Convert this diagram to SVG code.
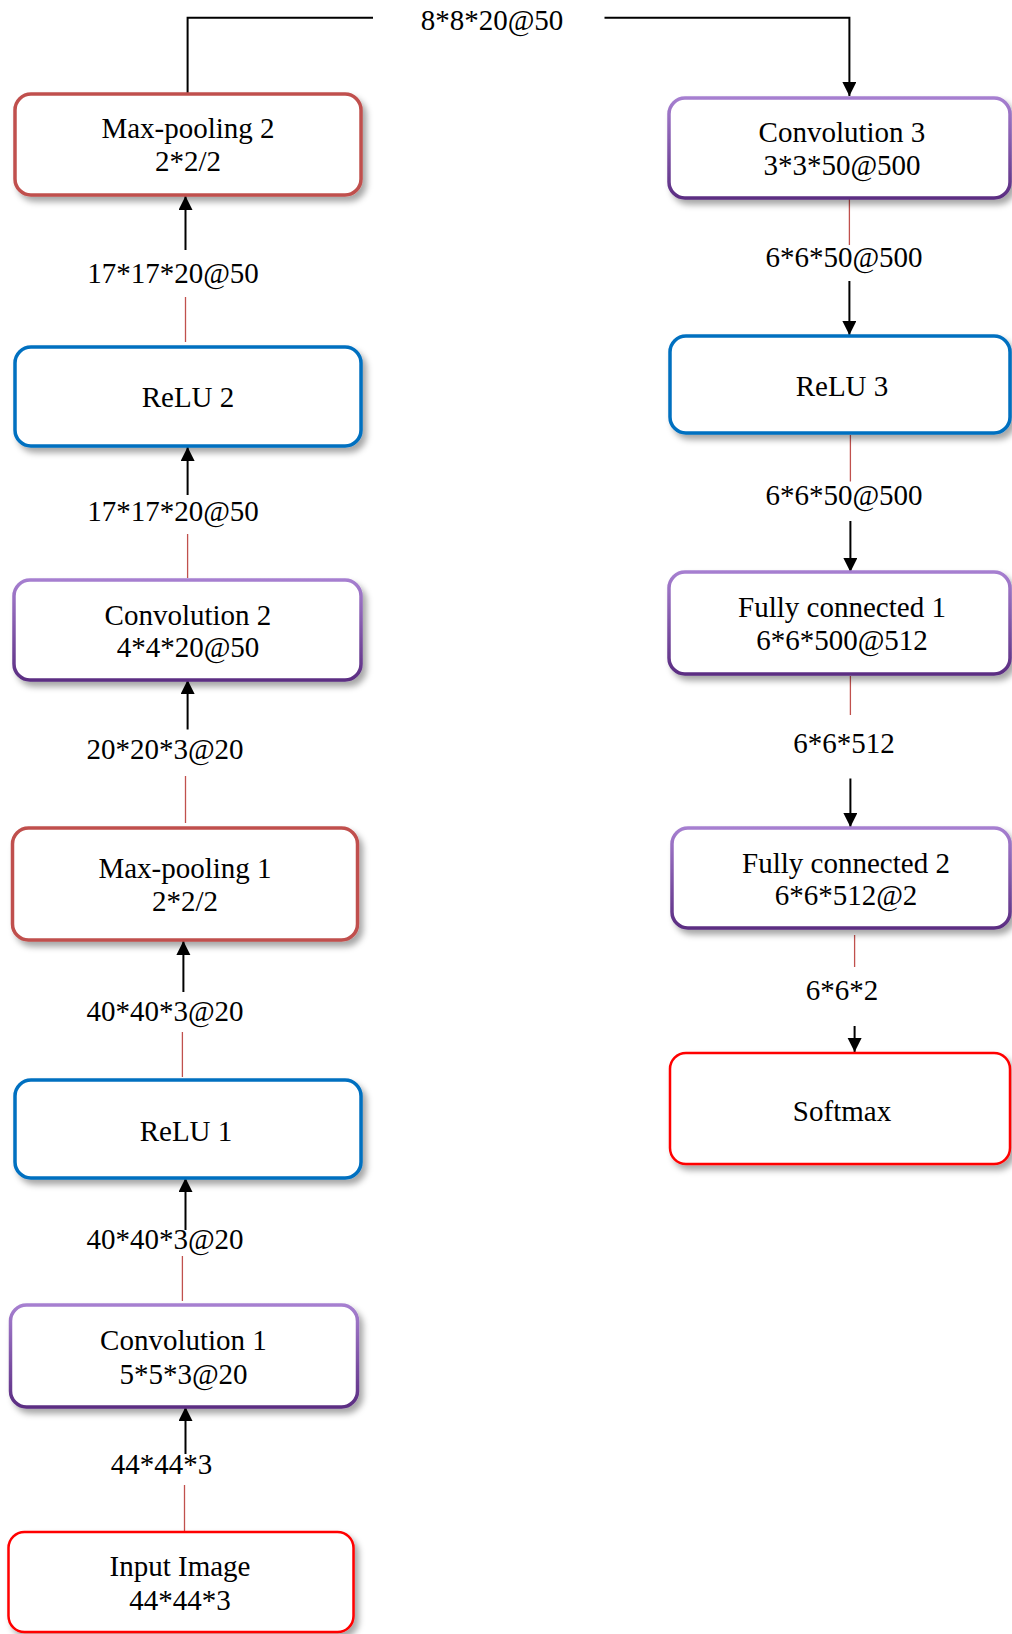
<svg xmlns="http://www.w3.org/2000/svg" width="1012" height="1634" viewBox="0 0 1012 1634">
<style>
text{font-family:"Liberation Serif","Times New Roman",serif;font-size:29px;fill:#000;text-anchor:middle}
.box{fill:#fff;stroke-width:3.5;filter:url(#sh)}
.pool{stroke:#C0504D}
.relu{stroke:#0070C0}
.conv{stroke:url(#pg)}
.io{stroke:#FF0000;stroke-width:2.5}
.red{stroke:#C0504D;stroke-width:1.3;fill:none}
.blk{stroke:#000;stroke-width:2;fill:none}
.arr{marker-end:url(#ah)}
</style>
<defs>
<filter id="sh" x="-10%" y="-10%" width="125%" height="130%">
<feDropShadow dx="4" dy="5" stdDeviation="3" flood-color="#000" flood-opacity="0.35"/>
</filter>
<linearGradient id="pg" x1="0" y1="0" x2="0" y2="1">
<stop offset="0" stop-color="#A67FD0"/>
<stop offset="1" stop-color="#5B2D82"/>
</linearGradient>
<marker id="ah" markerUnits="userSpaceOnUse" markerWidth="14" markerHeight="16" viewBox="0 0 14 16" refX="14" refY="7" orient="auto">
<path d="M0,0 L14,7 L0,14 Z" fill="#000"/>
</marker>
</defs>

<g id="connectors">
<polyline class="blk" points="187.6,94 187.6,17.7 373,17.7"/>
<polyline class="blk arr" points="604.5,17.7 849.4,17.7 849.4,96"/>
<line class="blk arr" x1="185.5" y1="250" x2="185.5" y2="196"/>
<line class="red" x1="185.5" y1="297" x2="185.5" y2="342"/>
<line class="blk arr" x1="187.6" y1="495" x2="187.6" y2="447"/>
<line class="red" x1="187.6" y1="534" x2="187.6" y2="578"/>
<line class="blk arr" x1="187.6" y1="729.5" x2="187.6" y2="680"/>
<line class="red" x1="185.5" y1="776" x2="185.5" y2="823"/>
<line class="blk arr" x1="183.4" y1="992" x2="183.4" y2="941"/>
<line class="red" x1="182.4" y1="1032" x2="182.4" y2="1077"/>
<line class="blk arr" x1="185.5" y1="1230" x2="185.5" y2="1178"/>
<line class="red" x1="182.4" y1="1256" x2="182.4" y2="1301"/>
<line class="blk arr" x1="185.5" y1="1454" x2="185.5" y2="1407"/>
<line class="red" x1="184.5" y1="1485" x2="184.5" y2="1532"/>
<line class="red" x1="849.4" y1="198" x2="849.4" y2="245"/>
<line class="blk arr" x1="849.4" y1="281" x2="849.4" y2="335"/>
<line class="red" x1="850.4" y1="435" x2="850.4" y2="481.5"/>
<line class="blk arr" x1="850.4" y1="521" x2="850.4" y2="572"/>
<line class="red" x1="850.4" y1="676" x2="850.4" y2="715"/>
<line class="blk arr" x1="850.4" y1="778.5" x2="850.4" y2="827"/>
<line class="red" x1="854.6" y1="935" x2="854.6" y2="967"/>
<line class="blk arr" x1="854.6" y1="1026" x2="854.6" y2="1052"/>
</g>

<g id="edge-labels">
<text x="492" y="30">8*8*20@50</text>
<text x="173" y="283">17*17*20@50</text>
<text x="173" y="521">17*17*20@50</text>
<text x="165" y="759">20*20*3@20</text>
<text x="165" y="1021">40*40*3@20</text>
<text x="165" y="1249">40*40*3@20</text>
<text x="161.5" y="1474">44*44*3</text>
<text x="844" y="267">6*6*50@500</text>
<text x="844" y="505">6*6*50@500</text>
<text x="844" y="753">6*6*512</text>
<text x="842" y="1000">6*6*2</text>
</g>

<g id="maxpool2"><rect class="box pool" x="15" y="94" width="346" height="101" rx="16"/><text x="188" y="138">Max-pooling 2</text><text x="188" y="171">2*2/2</text></g>
<g id="relu2"><rect class="box relu" x="15" y="347" width="346" height="99" rx="16"/><text x="188" y="407">ReLU 2</text></g>
<g id="conv2"><rect class="box conv" x="14" y="580" width="347" height="100" rx="16"/><text x="188" y="625">Convolution 2</text><text x="188" y="657">4*4*20@50</text></g>
<g id="maxpool1"><rect class="box pool" x="12.5" y="828" width="345" height="112" rx="16"/><text x="185" y="878">Max-pooling 1</text><text x="185" y="911">2*2/2</text></g>
<g id="relu1"><rect class="box relu" x="15" y="1080" width="346" height="98" rx="16"/><text x="186" y="1141">ReLU 1</text></g>
<g id="conv1"><rect class="box conv" x="10.5" y="1305" width="347" height="102" rx="16"/><text x="183.5" y="1350">Convolution 1</text><text x="183.5" y="1384">5*5*3@20</text></g>
<g id="input"><rect class="box io" x="8.5" y="1532" width="345" height="100" rx="16"/><text x="180" y="1576">Input Image</text><text x="180" y="1610">44*44*3</text></g>

<g id="conv3"><rect class="box conv" x="669" y="98" width="341" height="100" rx="16"/><text x="842" y="142">Convolution 3</text><text x="842" y="175">3*3*50@500</text></g>
<g id="relu3"><rect class="box relu" x="670" y="336" width="340" height="97" rx="16"/><text x="842" y="396">ReLU 3</text></g>
<g id="fc1"><rect class="box conv" x="669" y="572" width="341" height="102" rx="16"/><text x="842" y="617">Fully connected 1</text><text x="842" y="650">6*6*500@512</text></g>
<g id="fc2"><rect class="box conv" x="672" y="828" width="338" height="100" rx="16"/><text x="846" y="873">Fully connected 2</text><text x="846" y="905">6*6*512@2</text></g>
<g id="softmax"><rect class="box io" x="670" y="1053" width="340" height="111" rx="16"/><text x="842" y="1121">Softmax</text></g>
</svg>
